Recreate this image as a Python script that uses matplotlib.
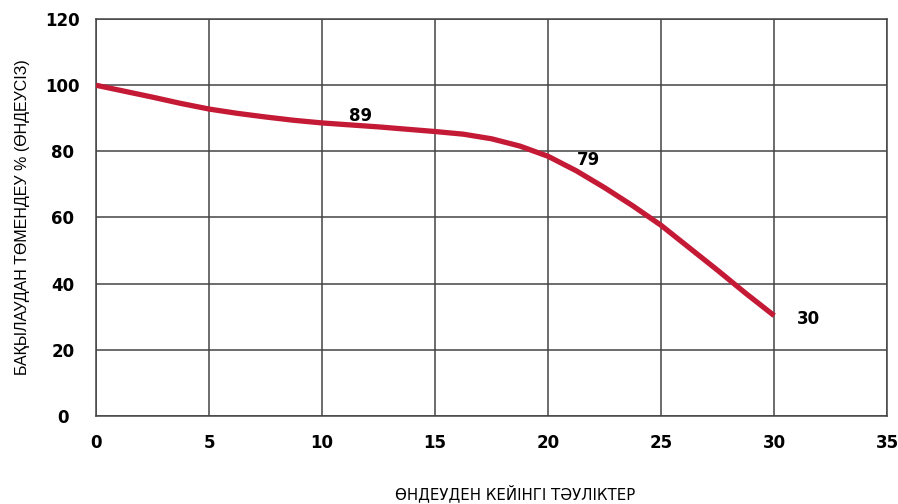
import matplotlib.pyplot as plt

# data
days = [0, 1.25, 2.5, 3.75, 5, 6.25, 7.5, 8.75, 10, 12.5, 15, 16.25, 17.5, 18.75,
        20, 21.25, 22.5, 23.75, 25, 26.25, 27.5, 28.75, 30]
values = [100, 98.2, 96.4, 94.5, 92.8, 91.5, 90.4, 89.4, 88.6, 87.4, 86.0, 85.2, 83.8, 81.6,
          78.5, 74.1, 69.0, 63.5, 57.6, 50.8, 44.0, 37.0, 30.3]

labels = ["89", "79", "30"]
label_x = [11.7, 21.8, 31.5]
label_y = [90.8, 77.4, 29.3]

xticks = [0, 5, 10, 15, 20, 25, 30, 35]
yticks = [0, 20, 40, 60, 80, 100, 120]

fig = plt.figure(figsize=(8.98, 5.04), dpi=100)
ax = fig.add_axes([0.107, 0.175, 0.881, 0.787])

ax.plot(days, values, color='#c41a36', linewidth=3.8,
        solid_capstyle='butt', solid_joinstyle='round', zorder=3)

for t, x, y in zip(labels, label_x, label_y):
    ax.text(x, y, t, fontsize=12, fontweight='bold', ha='center', va='center', zorder=4)

ax.set_xlim(0, 35)
ax.set_ylim(0, 120)
ax.set_xticks(xticks)
ax.set_yticks(yticks)
ax.grid(True, color='#444444', linewidth=1.1)
ax.set_axisbelow(True)
for s in ax.spines.values():
    s.set_color('#444444')
    s.set_linewidth(1.1)

ax.tick_params(length=0, labelsize=12)
ax.tick_params(axis='x', pad=13)
ax.tick_params(axis='y', pad=24)
for lab in ax.get_xticklabels() + ax.get_yticklabels():
    lab.set_fontweight('bold')
for lab in ax.get_yticklabels():
    lab.set_horizontalalignment('center')

ax.set_ylabel("БАҚЫЛАУДАН ТӨМЕНДЕУ % (ӨНДЕУСІЗ)", fontsize=11.5,
              family=['Liberation Sans', 'DejaVu Sans'])
ax.yaxis.set_label_coords(-0.083, 0.5)
ax.set_xlabel("ӨНДЕУДЕН КЕЙІНГІ ТӘУЛІКТЕР", fontsize=10.8,
              family=['Liberation Sans Narrow', 'DejaVu Sans Condensed', 'DejaVu Sans'],
              va='center')
ax.xaxis.set_label_coords(0.53, -0.195)

fig.savefig('out.png', dpi=100)
